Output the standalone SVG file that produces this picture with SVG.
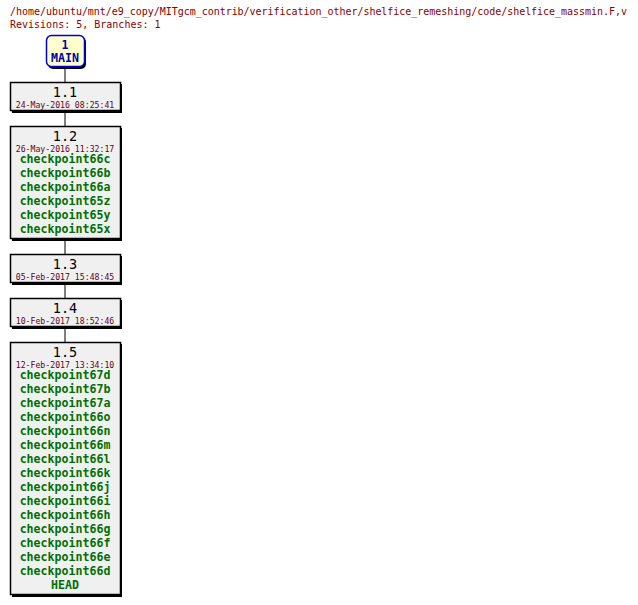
<svg xmlns="http://www.w3.org/2000/svg" width="638" height="605" viewBox="0 0 638 605">
<style>
text{font-family:"DejaVu Sans Mono","Liberation Mono",monospace;text-anchor:middle}
.hd{font-size:10px;fill:#880000;text-anchor:start}
.box{fill:#f0f0f0;stroke:#000;stroke-width:1.5}
.sh{fill:#000}
.t{font-size:13.5px;fill:#000}
.d{font-size:8.2px;fill:#660022}
.c{font-size:11.6px;font-weight:bold;fill:#007000}
line{stroke:#000;stroke-width:1}
</style>
<text class="hd" x="10" y="15" textLength="617">/home/ubuntu/mnt/e9_copy/MITgcm_contrib/verification_other/shelfice_remeshing/code/shelfice_massmin.F,v</text>
<text class="hd" x="10" y="28">Revisions: 5, Branches: 1</text>
<g id="connectors">
<line x1="65" y1="67" x2="65" y2="82"/>
<line x1="65" y1="111" x2="65" y2="126"/>
<line x1="65" y1="239" x2="65" y2="254"/>
<line x1="65" y1="283" x2="65" y2="298"/>
<line x1="65" y1="327" x2="65" y2="342"/>
</g>
<g id="main">
<rect x="48" y="37" width="38" height="32" rx="5" fill="#000"/>
<rect x="46.5" y="35.5" width="38" height="31" rx="5" fill="#ffffcc" stroke="#0000cc" stroke-width="1.5"/>
<text x="65" y="49" style="font-size:11.6px;font-weight:bold;fill:#0000aa">1</text>
<text x="65" y="62" style="font-size:11.6px;font-weight:bold;fill:#0000aa">MAIN</text>
</g>
<g id="r1_1">
<rect class="sh" x="12" y="84" width="110" height="29"/>
<rect class="box" x="10.5" y="82.5" width="110" height="28"/>
<text class="t" x="65" y="97">1.1</text>
<text class="d" x="65" y="107.5">24-May-2016 08:25:41</text>
</g>
<g id="r1_2">
<rect class="sh" x="12" y="128" width="110" height="113"/>
<rect class="box" x="10.5" y="126.5" width="110" height="112"/>
<text class="t" x="65" y="141">1.2</text>
<text class="d" x="65" y="151.5">26-May-2016 11:32:17</text>
<text class="c" x="65" y="163">checkpoint66c</text>
<text class="c" x="65" y="177">checkpoint66b</text>
<text class="c" x="65" y="191">checkpoint66a</text>
<text class="c" x="65" y="205">checkpoint65z</text>
<text class="c" x="65" y="219">checkpoint65y</text>
<text class="c" x="65" y="233">checkpoint65x</text>
</g>
<g id="r1_3">
<rect class="sh" x="12" y="256" width="110" height="29"/>
<rect class="box" x="10.5" y="254.5" width="110" height="28"/>
<text class="t" x="65" y="269">1.3</text>
<text class="d" x="65" y="279.5">05-Feb-2017 15:48:45</text>
</g>
<g id="r1_4">
<rect class="sh" x="12" y="300" width="110" height="29"/>
<rect class="box" x="10.5" y="298.5" width="110" height="28"/>
<text class="t" x="65" y="313">1.4</text>
<text class="d" x="65" y="323.5">10-Feb-2017 18:52:46</text>
</g>
<g id="r1_5">
<rect class="sh" x="12" y="344" width="110" height="253"/>
<rect class="box" x="10.5" y="342.5" width="110" height="252"/>
<text class="t" x="65" y="357">1.5</text>
<text class="d" x="65" y="367.5">12-Feb-2017 13:34:10</text>
<text class="c" x="65" y="379">checkpoint67d</text>
<text class="c" x="65" y="393">checkpoint67b</text>
<text class="c" x="65" y="407">checkpoint67a</text>
<text class="c" x="65" y="421">checkpoint66o</text>
<text class="c" x="65" y="435">checkpoint66n</text>
<text class="c" x="65" y="449">checkpoint66m</text>
<text class="c" x="65" y="463">checkpoint66l</text>
<text class="c" x="65" y="477">checkpoint66k</text>
<text class="c" x="65" y="491">checkpoint66j</text>
<text class="c" x="65" y="505">checkpoint66i</text>
<text class="c" x="65" y="519">checkpoint66h</text>
<text class="c" x="65" y="533">checkpoint66g</text>
<text class="c" x="65" y="547">checkpoint66f</text>
<text class="c" x="65" y="561">checkpoint66e</text>
<text class="c" x="65" y="575">checkpoint66d</text>
<text class="c" x="65" y="589">HEAD</text>
</g>
</svg>
